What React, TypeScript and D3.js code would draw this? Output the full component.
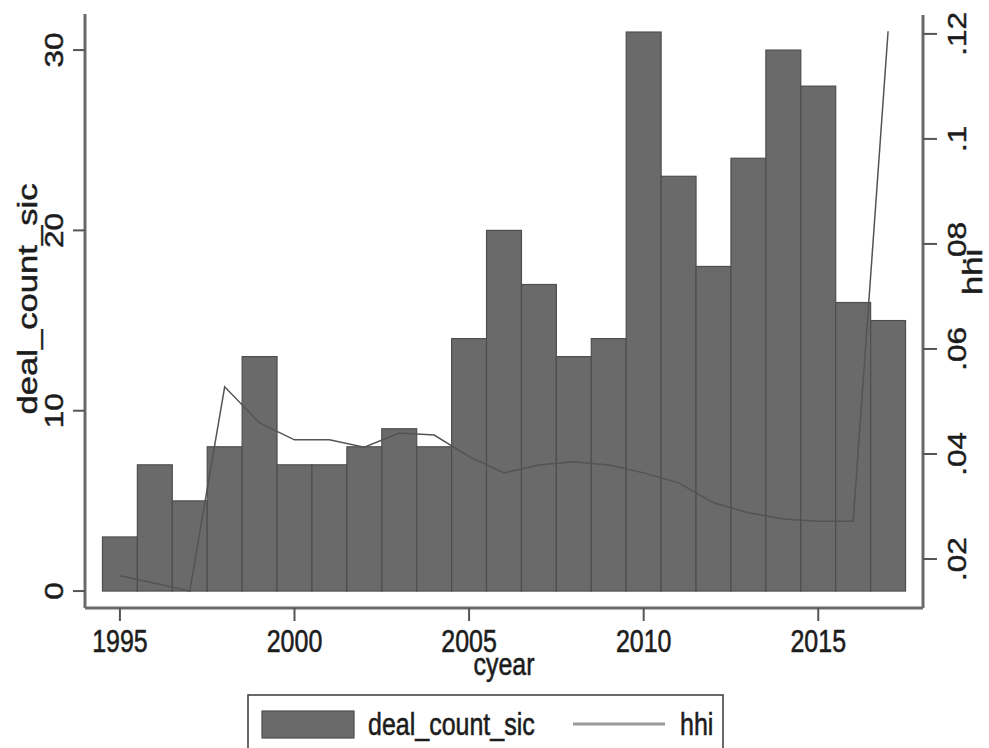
import React from 'react';
import * as d3 from 'd3';

const years = [1995, 1996, 1997, 1998, 1999, 2000, 2001, 2002, 2003, 2004, 2005, 2006, 2007, 2008, 2009, 2010, 2011, 2012, 2013, 2014, 2015, 2016, 2017];
const dealCount = [3, 7, 5, 8, 13, 7, 7, 8, 9, 8, 14, 20, 17, 13, 14, 31, 23, 18, 24, 30, 28, 16, 15];
const hhi = [0.0168, 0.0154, 0.0139, 0.0528, 0.0459, 0.0427, 0.0427, 0.0413, 0.044, 0.0436, 0.0395, 0.0364, 0.0379, 0.0385, 0.0379, 0.0364, 0.0345, 0.0307, 0.0288, 0.0276, 0.0272, 0.0272, 0.1205];

const xTicks = [1995, 2000, 2005, 2010, 2015];
const leftTicks = [0, 10, 20, 30];
const rightTicks = [0.02, 0.04, 0.06, 0.08, 0.1, 0.12];
const rightTickLabels = ['.02', '.04', '.06', '.08', '.1', '.12'];

const W = 989;
const H = 748;
const SY = 1.26; // the picture is stretched vertically
const FONT = "'Liberation Sans', Arial, sans-serif";
const TXT = '#1c1c1c';
const AXIS = '#6a6a6a';

const App = () => {
  const x = d3.scaleLinear().domain([1994, 2018]).range([85, 923]);
  const yL = d3.scaleLinear().domain([-0.94, 32]).range([608, 14]);
  const yR = d3.scaleLinear().domain([0.01067, 0.1236]).range([608, 15]);

  const line = d3.line<number>()
    .x((d, i) => x(years[i]))
    .y((d) => yR(d));

  const fs = 25; // tick labels
  const ft = 27.5; // axis titles
  const txtProps = { fill: TXT, stroke: TXT, strokeWidth: 0.45 };

  return (
    <div style={{ position: 'absolute', left: 0, top: 0 }}>
      <svg width={W} height={H} style={{ display: 'block', background: '#fff' }} fontFamily={FONT}>
        {/* bars */}
        {years.map((yr, i) => (
          <rect
            key={yr}
            x={x(yr - 0.5)}
            y={yL(dealCount[i])}
            width={x(yr + 0.5) - x(yr - 0.5)}
            height={yL(0) - yL(dealCount[i])}
            fill="#6a6a6a"
            stroke="#4e4e4e"
            strokeWidth={1.2}
          />
        ))}

        {/* hhi line */}
        <path d={line(hhi) || ''} fill="none" stroke="#545454" strokeWidth={1.5} />

        {/* axes */}
        <line x1={85} x2={85} y1={yL.range()[1]} y2={608} stroke={AXIS} strokeWidth={3} />
        <line x1={85} x2={923} y1={608} y2={608} stroke={AXIS} strokeWidth={3} />
        <line x1={923} x2={923} y1={yR.range()[1]} y2={608} stroke={AXIS} strokeWidth={3} />

        {/* left ticks */}
        {leftTicks.map((t) => (
          <g key={t}>
            <line x1={73} x2={85} y1={yL(t)} y2={yL(t)} stroke="#555" strokeWidth={2} />
            <text
              transform={`translate(54,${yL(t)}) scale(1,${SY}) rotate(-90)`}
              textAnchor="middle"
              dy="0.36em"
              fontSize={fs}
              {...txtProps}
            >
              {t}
            </text>
          </g>
        ))}

        {/* right ticks */}
        {rightTicks.map((t, i) => (
          <g key={t}>
            <line x1={923} x2={937} y1={yR(t)} y2={yR(t)} stroke="#555" strokeWidth={2} />
            <text
              transform={`translate(957,${yR(t)}) scale(1,${SY}) rotate(-90)`}
              textAnchor="middle"
              dy="0.36em"
              fontSize={fs}
              {...txtProps}
            >
              {rightTickLabels[i]}
            </text>
          </g>
        ))}

        {/* bottom ticks */}
        {xTicks.map((t) => (
          <g key={t}>
            <line x1={x(t)} x2={x(t)} y1={608} y2={621} stroke="#555" strokeWidth={2} />
            <text
              transform={`translate(${x(t)},652) scale(1,${SY})`}
              textAnchor="middle"
              fontSize={fs}
              {...txtProps}
            >
              {t}
            </text>
          </g>
        ))}

        {/* axis titles */}
        <text transform={`translate(504,675) scale(1,${SY})`} textAnchor="middle" fontSize={fs} {...txtProps}>
          cyear
        </text>
        <text
          transform={`translate(27,299) scale(1,${SY}) rotate(-90)`}
          textAnchor="middle"
          dy="0.36em"
          fontSize={ft}
          {...txtProps}
        >
          deal_count_sic
        </text>
        <text
          transform={`translate(972,272) scale(1,${SY}) rotate(-90)`}
          textAnchor="middle"
          dy="0.36em"
          fontSize={ft}
          {...txtProps}
        >
          hhi
        </text>

        {/* legend */}
        <rect x={248} y={695} width={475} height={60} fill="#fff" stroke="#444" strokeWidth={1.6} />
        <rect x={262} y={711} width={92} height={27} fill="#6a6a6a" stroke="#4e4e4e" strokeWidth={1.2} />
        <text transform={`translate(368,735) scale(1,${SY})`} fontSize={fs} {...txtProps}>
          deal_count_sic
        </text>
        <line x1={573} x2={665} y1={724} y2={724} stroke="#9a9a9a" strokeWidth={3} />
        <text transform={`translate(680,735) scale(1,${SY})`} fontSize={fs} {...txtProps}>
          hhi
        </text>
      </svg>
    </div>
  );
};

export default App;
